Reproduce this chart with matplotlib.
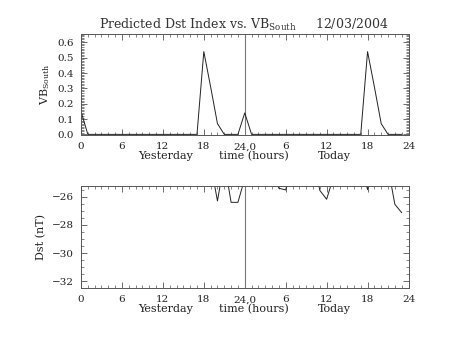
import numpy as np
import matplotlib
matplotlib.use("Agg")
import matplotlib.pyplot as plt
from matplotlib.ticker import MultipleLocator

# ---- data ----
hours = list(range(48))
vb_south = [0.15, 0, 0, 0, 0, 0, 0, 0, 0, 0, 0, 0, 0, 0, 0, 0, 0, 0,
            0.54, 0.31, 0.07, 0, 0, 0, 0.14, 0, 0, 0, 0, 0, 0, 0, 0, 0,
            0, 0, 0, 0, 0, 0, 0, 0, 0.54, 0.31, 0.07, 0, 0, 0]
dst = [-24.0, -24.0, -24.0, -24.0, -24.0, -24.0, -24.0, -24.0, -24.0, -24.0,
       -24.0, -24.0, -24.0, -24.0, -24.0, -24.0, -24.0, -24.0, -24.0, -23.65,
       -26.3, -23.5, -26.4, -26.4, -24.7, -24.5, -24.5, -24.5, -24.3, -25.4,
       -25.52, -23.65, -24.0, -24.0, -23.0, -25.55, -26.18, -24.6, -24.0, -24.0,
       -24.0, -23.5, -25.5, -23.5, -24.0, -23.9, -26.54, -27.13]
xtick_pos = [0, 6, 12, 18, 24, 30, 36, 42, 48]
xtick_labels = ['0', '6', '12', '18', '24,0', '6', '12', '18', '24']
vb_ticks = [0.0, 0.1, 0.2, 0.3, 0.4, 0.5, 0.6]
dst_ticks = [-26, -28, -30, -32]
day_labels = ['Yesterday', 'time (hours)', 'Today']
day_label_pos = [12.4, 25.3, 37.2]

FONT = 'DejaVu Serif'
plt.rcParams['font.family'] = [FONT]

fig = plt.figure(figsize=(4.53, 3.40), dpi=100)
W, H = 453.0, 340.0

def axes_px(l, t, r, b):
    return fig.add_axes([l / W, 1 - b / H, (r - l) / W, (b - t) / H])

ax1 = axes_px(81, 34, 408.5, 135.3)
ax2 = axes_px(81, 186, 408.5, 288.3)

lc = '#222222'
fc = '#555555'

for ax in (ax1, ax2):
    ax.set_xlim(0, 48)
    ax.set_xticks(xtick_pos)
    ax.set_xticklabels(xtick_labels, fontsize=7.5, color='#222')
    ax.xaxis.set_minor_locator(MultipleLocator(1))
    ax.tick_params(which='both', direction='in', top=True, right=True,
                   colors=fc, labelcolor='#222')
    ax.tick_params(which='major', length=4, width=0.6, pad=5)
    ax.tick_params(which='minor', length=2, width=0.5)
    for s in ax.spines.values():
        s.set_color(fc)
        s.set_linewidth(0.7)
    ax.axvline(24, color='#777777', lw=0.8)
    for txt, xp in zip(day_labels, day_label_pos):
        ax.text(xp, -0.205, txt, transform=ax.get_xaxis_transform(),
                ha='center', va='center', fontsize=8, color='#222')

ax1.plot(hours, vb_south, color=lc, lw=0.7, clip_on=True)
ax1.set_ylim(-0.006, 0.655)
ax1.set_yticks(vb_ticks)
ax1.set_yticklabels([f'{v:.1f}' for v in vb_ticks], fontsize=7.5)
ax1.yaxis.set_minor_locator(MultipleLocator(0.01))
ax1.set_ylabel(r'VB$_{\mathregular{South}}$', fontsize=8, color='#222', labelpad=4)

ax2.plot(hours, dst, color=lc, lw=0.7, clip_on=True)
ax2.set_ylim(-32.5, -25.24)
ax2.set_yticks(dst_ticks)
ax2.set_yticklabels(['\u221226', '\u221228', '\u221230', '\u221232'], fontsize=7.5)
ax2.yaxis.set_minor_locator(MultipleLocator(0.5))
ax2.set_ylabel('Dst (nT)', fontsize=8, color='#222', labelpad=4)

fig.text(244 / W, 1 - 25 / H,
         r'Predicted Dst Index vs. VB$_{\mathregular{South}}$     12/03/2004',
         ha='center', va='center', fontsize=9, color='#333')

fig.savefig('out.png', dpi=100)
